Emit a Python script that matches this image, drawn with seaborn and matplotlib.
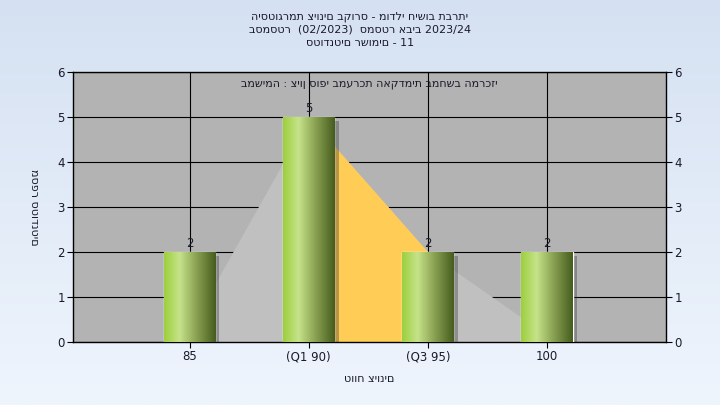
import numpy as np
import pandas as pd
import matplotlib
matplotlib.use('Agg')
import matplotlib.pyplot as plt
import matplotlib.patheffects as pe
import seaborn as sns

# data
grades = ['85', '(Q1 90)', '(Q3 95)', '100']
students = [2, 5, 2, 2]
curve = [0.3, 5, 2, 0.15]

title_lines = ['היסטוגרמת ציונים בקורס - מודלי חישוב תברתי',
               'בסמסטר  (02/2023)  סמסטר אביב 2023/24',
               'סטודנטים רשומים - 11']
subtitle = 'במשימה : ציון סופי במערכת האקדמית במחשב המרכזי'
xlabel = 'טווח ציונים'
ylabel = 'מספר סטודנטים'

df = pd.DataFrame({'grade': grades, 'students': students})

sns.set_theme(style='white')
plt.rcParams['font.family'] = ['DejaVu Sans']

fig = plt.figure(figsize=(7.2, 4.05), dpi=100)

# figure background gradient
bg = fig.add_axes([0, 0, 1, 1], zorder=-10)
grad = np.linspace(0, 1, 256).reshape(-1, 1)
bg_cmap = matplotlib.colors.LinearSegmentedColormap.from_list('bg', ['#d5e1f2', '#eff5fd'])
bg.imshow(grad, aspect='auto', cmap=bg_cmap, extent=[0, 1, 0, 1])
bg.set_axis_off()

ax = fig.add_axes([0.1014, 0.1556, 0.8236, 0.6667])
ax.set_facecolor('#b3b3b3')

# area behind bars
xs = np.arange(len(grades))
ax.fill_between(xs, curve, color='#c0c0c0', zorder=2, lw=0)
ax.fill_between(xs[1:3], curve[1:3], color='#ffcc55', zorder=2.1, lw=0)

sns.barplot(data=df, x='grade', y='students', width=0.43, color='#8fb545',
            ax=ax, zorder=3, saturation=1)

bar_cmap = matplotlib.colors.LinearSegmentedColormap.from_list(
    'bar', [(0, '#9ccf3c'), (0.3, '#c6e38a'), (0.6, '#8ea656'), (1, '#465c1e')])
hgrad = np.linspace(0, 1, 256).reshape(1, -1)
for p, v in zip(ax.patches, students):
    p.set_path_effects([pe.SimplePatchShadow(offset=(3, -3), shadow_rgbFace='#333333', alpha=0.35),
                        pe.Normal()])
    x0, w = p.get_x(), p.get_width()
    im = ax.imshow(hgrad, aspect='auto', cmap=bar_cmap,
                   extent=[x0, x0 + w, 0, p.get_height()], zorder=3.5)
    im.set_clip_path(p)
    ax.text(x0 + w / 2, v + 0.05, str(v), ha='center', va='bottom',
            fontsize=8.5, color='#1a1a2a', zorder=5)

ax.set_xlim(-0.98, 4.0)
ax.set_ylim(0, 6)
ax.set_yticks(range(7))
ax.set_xticks(xs)
ax.set_xticklabels(grades)
ax.grid(True, color='black', lw=0.8, zorder=1)
ax.set_axisbelow(True)
for s in ax.spines.values():
    s.set_color('black')
    s.set_linewidth(1)
ax.tick_params(axis='both', direction='out', length=4, width=0.8, color='black',
               labelsize=8.5, labelcolor='#1a1a2a', pad=2)
ax.tick_params(axis='y', left=True, right=True, labelright=True)
ax.tick_params(axis='x', bottom=True)

ax.set_xlabel(xlabel, fontsize=8, color='#1a1a2a', labelpad=8)
ax.set_ylabel(ylabel, fontsize=8, color='#1a1a2a', rotation=270, labelpad=17, va='center')

ax.text(0.5, 0.955, subtitle, transform=ax.transAxes, ha='center', va='center',
        fontsize=8, color='#1a1a2a', zorder=6)

for i, line in enumerate(title_lines):
    fig.text(0.5, 1 - (17 + 13 * i) / 405, line, ha='center', va='center',
             fontsize=8, color='#1a1a2a')

fig.savefig('out.png', dpi=100)
